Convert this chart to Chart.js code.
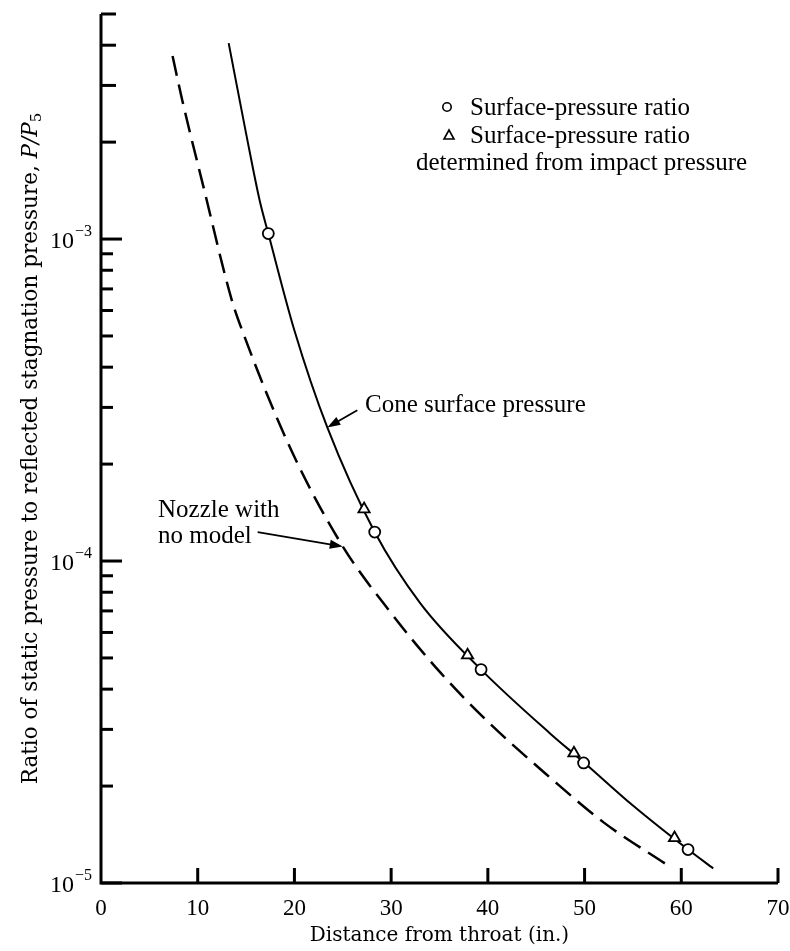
<!DOCTYPE html>
<html>
<head>
<meta charset="utf-8">
<script src="https://cdn.jsdelivr.net/npm/chart.js@4.4.1/dist/chart.umd.min.js"></script>
<style>
  html, body { margin: 0; padding: 0; background: #fff; }
  #chart { display: block; }
</style>
</head>
<body>
<canvas id="chart" width="790" height="951"></canvas>
<script>
/* values */
const coneX = [13.2, 15.0, 16.4, 17.3, 20.0, 23.4, 28.3, 33.0, 39.3, 46.4, 50.0, 55.0, 60.7, 63.3];
const coneY = [4.06e-3, 2.13e-3, 1.32e-3, 1.04e-3, 5.2e-4, 2.6e-4, 1.23e-4, 7.4e-5, 4.6e-5, 2.92e-5, 2.36e-5, 1.74e-5, 1.27e-5, 1.11e-5];

const nozzleX = [7.4, 8.4, 10.6, 13.5, 14.6, 19.7, 25.0, 29.9, 35.1, 40.0, 46.4, 52.0, 58.5];
const nozzleY = [3.7e-3, 2.7e-3, 1.45e-3, 6.5e-4, 5.2e-4, 2.2e-4, 1.11e-4, 6.95e-5, 4.5e-5, 3.17e-5, 2.13e-5, 1.54e-5, 1.14e-5];

const circleX = [17.3, 28.3, 39.3, 49.9, 60.7];
const circleY = [1.04e-3, 1.23e-4, 4.6e-5, 2.36e-5, 1.27e-5];

const triX = [27.2, 37.9, 48.9, 59.3];
const triY = [1.45e-4, 5.1e-5, 2.53e-5, 1.38e-5];

const xTicks = [0, 10, 20, 30, 40, 50, 60, 70];
const yTicks = [1e-5, 2e-5, 3e-5, 4e-5, 5e-5, 6e-5, 7e-5, 8e-5, 9e-5,
                1e-4, 2e-4, 3e-4, 4e-4, 5e-4, 6e-4, 7e-4, 8e-4, 9e-4,
                1e-3, 2e-3, 3e-3, 4e-3, 5e-3];
const yDecades = [1e-5, 1e-4, 1e-3];
const yDecadeExp = ['\u22125', '\u22124', '\u22123'];

const xTitle = 'Distance from throat (in.)';
const yTitle = 'Ratio of static pressure to reflected stagnation pressure, ';
const legendLines = ['Surface-pressure ratio', 'Surface-pressure ratio', 'determined from impact pressure'];

const SERIF = '"Liberation Serif", "Times New Roman", serif';
const TITLE = '"DejaVu Serif", serif';

const pts = (xs, ys) => xs.map((v, i) => ({ x: v, y: ys[i] }));

function arrow(ctx, x0, y0, x1, y1) {
  const a = Math.atan2(y1 - y0, x1 - x0);
  const len = 13, half = 4.5;
  const bx = x1 - len * Math.cos(a), by = y1 - len * Math.sin(a);
  ctx.lineWidth = 1.8;
  ctx.beginPath();
  ctx.moveTo(x0, y0);
  ctx.lineTo(bx + 3 * Math.cos(a), by + 3 * Math.sin(a));
  ctx.stroke();
  ctx.beginPath();
  ctx.moveTo(x1, y1);
  ctx.lineTo(bx + half * Math.sin(a), by - half * Math.cos(a));
  ctx.lineTo(bx - half * Math.sin(a), by + half * Math.cos(a));
  ctx.closePath();
  ctx.fill();
}

const paper = {
  id: 'paper',
  afterDraw(chart) {
    const { ctx, chartArea: ca, scales: { x, y } } = chart;
    ctx.save();
    ctx.strokeStyle = '#000';
    ctx.fillStyle = '#000';
    ctx.lineCap = 'butt';

    // axes
    ctx.lineWidth = 3;
    ctx.beginPath();
    ctx.moveTo(ca.left, ca.top);
    ctx.lineTo(ca.left, ca.bottom);
    ctx.lineTo(ca.right, ca.bottom);
    ctx.stroke();

    // inward ticks
    yTicks.forEach(v => {
      const py = y.getPixelForValue(v);
      const len = yDecades.includes(v) ? 21 : (v > 1e-3 ? 15 : 12);
      ctx.beginPath();
      ctx.moveTo(ca.left, py);
      ctx.lineTo(ca.left + len, py);
      ctx.stroke();
    });
    xTicks.slice(1).forEach(v => {
      const px = x.getPixelForValue(v);
      ctx.beginPath();
      ctx.moveTo(px, ca.bottom);
      ctx.lineTo(px, ca.bottom - 15);
      ctx.stroke();
    });

    // decade labels 10^-n
    ctx.textAlign = 'left';
    ctx.textBaseline = 'alphabetic';
    yDecades.forEach((v, i) => {
      const py = y.getPixelForValue(v);
      ctx.font = '16px ' + SERIF;
      const sw = ctx.measureText(yDecadeExp[i]).width;
      ctx.font = '24px ' + SERIF;
      const bw = ctx.measureText('10').width;
      const right = ca.left - 9;
      ctx.fillText('10', right - sw - bw - 1, py + 9);
      ctx.font = '16px ' + SERIF;
      ctx.fillText(yDecadeExp[i], right - sw, py - 3);
    });

    // y title, rotated, with italic P/P5
    ctx.save();
    ctx.translate(37, (ca.top + ca.bottom) / 2);
    ctx.rotate(-Math.PI / 2);
    ctx.font = '21.5px ' + TITLE;
    const w1 = ctx.measureText(yTitle).width;
    ctx.font = 'italic 21.5px ' + TITLE;
    const w2 = ctx.measureText('P/P').width;
    ctx.font = '15px ' + TITLE;
    const w3 = ctx.measureText('5').width;
    let sx = -(w1 + w2 + w3) / 2;
    ctx.font = '21.5px ' + TITLE;
    ctx.fillText(yTitle, sx, 0);
    sx += w1;
    ctx.font = 'italic 21.5px ' + TITLE;
    ctx.fillText('P/P', sx, 0);
    sx += w2;
    ctx.font = '15px ' + TITLE;
    ctx.fillText('5', sx, 4);
    ctx.restore();

    // legend
    const lx = ca.left + 346, ly = ca.top + 93;
    ctx.lineWidth = 1.6;
    ctx.beginPath();
    ctx.arc(lx, ly, 4.2, 0, Math.PI * 2);
    ctx.stroke();
    ctx.beginPath();
    ctx.moveTo(lx + 2, ly + 23);
    ctx.lineTo(lx + 7, ly + 32);
    ctx.lineTo(lx - 3, ly + 32);
    ctx.closePath();
    ctx.stroke();
    ctx.font = '25px ' + SERIF;
    ctx.textBaseline = 'middle';
    ctx.fillText(legendLines[0], lx + 23, ly + 1);
    ctx.fillText(legendLines[1], lx + 23, ly + 29);
    ctx.fillText(legendLines[2], lx - 31, ly + 56);

    // annotations
    ctx.fillText('Cone surface pressure', x.getPixelForValue(27.3), y.getPixelForValue(3.05e-4));
    arrow(ctx, x.getPixelForValue(26.5), y.getPixelForValue(2.94e-4), x.getPixelForValue(23.4), y.getPixelForValue(2.6e-4));

    ctx.fillText('Nozzle with', x.getPixelForValue(5.9), y.getPixelForValue(1.44e-4));
    ctx.fillText('no model', x.getPixelForValue(5.9), y.getPixelForValue(1.19e-4));
    arrow(ctx, x.getPixelForValue(16.2), y.getPixelForValue(1.23e-4), x.getPixelForValue(25.0), y.getPixelForValue(1.11e-4));

    ctx.restore();
  }
};

const ctx = document.getElementById('chart');
var config = {
  type: 'scatter',
  data: {
    datasets: [
      {
        label: 'Surface-pressure ratio',
        data: pts(circleX, circleY),
        pointStyle: 'circle',
        pointRadius: 5.5,
        pointBackgroundColor: '#fff',
        pointBorderColor: '#000',
        pointBorderWidth: 1.8,
        showLine: false,
        order: 1
      },
      {
        label: 'Surface-pressure ratio determined from impact pressure',
        data: pts(triX, triY),
        pointStyle: 'triangle',
        pointRadius: 6.5,
        pointBackgroundColor: '#fff',
        pointBorderColor: '#000',
        pointBorderWidth: 1.8,
        showLine: false,
        order: 1
      },
      {
        label: 'Cone surface pressure',
        data: pts(coneX, coneY),
        showLine: true,
        borderColor: '#000',
        borderWidth: 2,
        pointRadius: 0,
        cubicInterpolationMode: 'monotone',
        order: 2
      },
      {
        label: 'Nozzle with no model',
        data: pts(nozzleX, nozzleY),
        showLine: true,
        borderColor: '#000',
        borderWidth: 2.5,
        borderDash: [20, 9],
        pointRadius: 0,
        cubicInterpolationMode: 'monotone',
        order: 2
      }
    ]
  },
  options: {
    responsive: false,
    animation: false,
    layout: { padding: { top: 14, right: 12, left: 0, bottom: 0 } },
    plugins: { legend: { display: false }, tooltip: { enabled: false } },
    scales: {
      x: {
        type: 'linear',
        min: 0,
        max: 70,
        afterBuildTicks: s => { s.ticks = xTicks.map(v => ({ value: v })); },
        afterFit: s => { s.height = 68; s.paddingLeft = 0; s.paddingRight = 0; },
        grid: { display: false, drawTicks: false },
        border: { display: false },
        ticks: { color: '#000', font: { family: SERIF, size: 23 }, padding: 12, maxRotation: 0 },
        title: { display: true, text: xTitle, color: '#000', font: { family: TITLE, size: 20 }, padding: { top: 0, bottom: 3 } }
      },
      y: {
        type: 'logarithmic',
        min: 1e-5,
        max: 5e-3,
        afterBuildTicks: s => { s.ticks = yTicks.map(v => ({ value: v })); },
        afterFit: s => { s.width = 101; s.paddingTop = 0; s.paddingBottom = 0; },
        grid: { display: false, drawTicks: false },
        border: { display: false },
        ticks: { display: false }
      }
    }
  },
  plugins: [paper]
};

var myChart = new Chart(ctx, config);
</script>
</body>
</html>
